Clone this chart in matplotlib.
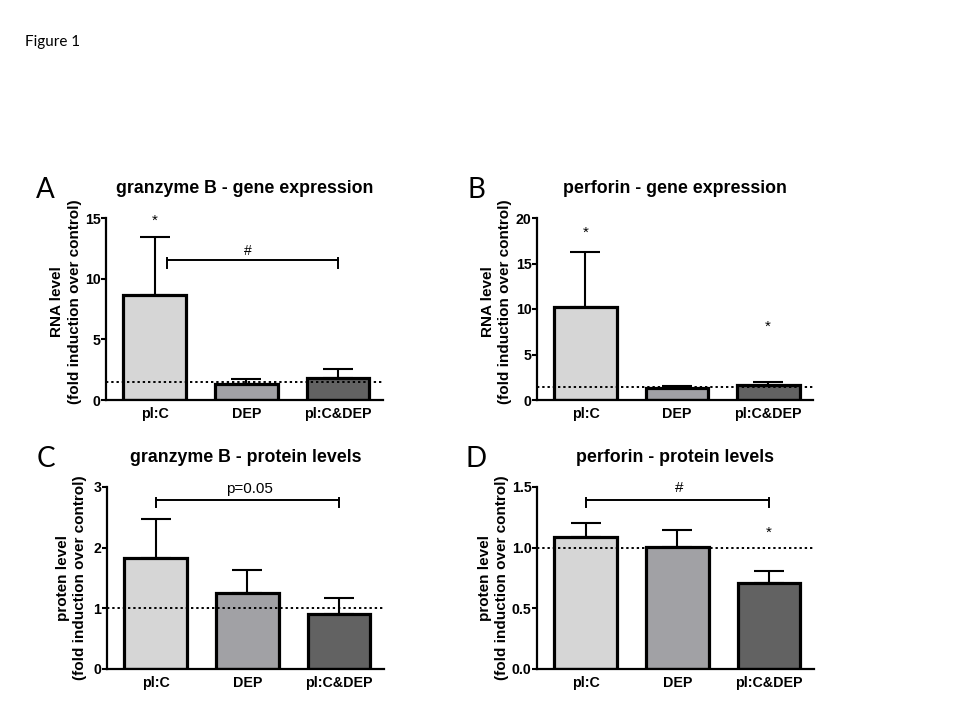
import matplotlib
matplotlib.use("Agg")
import matplotlib.pyplot as plt

plt.rcParams['font.family'] = ['Liberation Sans', 'DejaVu Sans']

groups = ['pl:C', 'DEP', 'pl:C&DEP']
colors = ['#d6d6d6', '#a1a1a5', '#626262']

# values: means and upper error (mean + SEM)
grz_rna = [8.65, 1.3, 1.8]
grz_rna_err = [13.4, 1.7, 2.55]
prf_rna = [10.2, 1.3, 1.65]
prf_rna_err = [16.3, 1.55, 2.0]
grz_prot = [1.83, 1.26, 0.91]
grz_prot_err = [2.48, 1.64, 1.17]
prf_prot = [1.085, 1.007, 0.706]
prf_prot_err = [1.20, 1.144, 0.808]

# baselines (dotted lines)
baselines = [1.5, 1.4, 1.0, 1.0]

fig = plt.figure(figsize=(9.6, 7.2), dpi=100)
fig.text(25/960, 1 - 42/720, 'Figure 1', fontsize=11, family=['Lato', 'DejaVu Sans'],
         va='center', ha='left')


def panel(rect, letter, title, vals, tops, base, ymax, yticks, ylabel, ticklabels, labxy):
    ax = fig.add_axes(rect)
    x = list(range(len(groups)))
    ax.bar(x, vals, width=0.685, color=colors, edgecolor='black', linewidth=2.3, zorder=2)
    errs = [t - v for t, v in zip(tops, vals)]
    ax.errorbar(x, vals, yerr=[[0]*3, errs], fmt='none', ecolor='black',
                elinewidth=1.5, capsize=11, capthick=1.5, zorder=1)
    ax.axhline(base, color='black', linestyle=(0, (1.2, 1.5)), linewidth=1.4, zorder=3)
    ax.set_xlim(-0.53, 2.49)
    ax.set_ylim(0, ymax)
    ax.set_yticks(yticks)
    ax.set_yticklabels(ticklabels, fontweight='bold', fontsize=10.2)
    ax.set_xticks(x)
    ax.set_xticklabels(groups, fontweight='bold', fontsize=10.3)
    ax.tick_params(axis='x', length=0, pad=5)
    ax.tick_params(axis='y', length=3.5, width=1.5, direction='out', pad=0.5)
    for s in ['top', 'right']:
        ax.spines[s].set_visible(False)
    for s in ['left', 'bottom']:
        ax.spines[s].set_linewidth(1.6)
    ax.set_ylabel(ylabel, fontweight='bold', fontsize=11, linespacing=1.3)
    ax.yaxis.set_label_coords(*labxy)
    ax.set_title(title, fontweight='bold', fontsize=12.8, pad=18)
    ax.text(-0.22, 1.155, letter, transform=ax.transAxes, fontsize=20,
            family=['Lato', 'DejaVu Sans'], ha='center', va='center')
    return ax


def bracket(ax, x0, x1, y, tick):
    ax.plot([x0, x1], [y, y], color='black', linewidth=1.4, clip_on=False)
    for xx in (x0, x1):
        ax.plot([xx, xx], [y + tick*0.35, y - tick], color='black', linewidth=1.4, clip_on=False)


rna_label = 'RNA level\n(fold induction over control)'
prot_label = 'proten level\n(fold induction over control)'

axA = panel([106/960, 1 - 400/720, 277/960, 182/720], 'A', 'granzyme B - gene expression',
            grz_rna, grz_rna_err, baselines[0], 15, [0, 5, 10, 15], rna_label,
            ['0', '5', '10', '15'], (-0.088, 0.54))
bracket(axA, 0.14, 2.0, 11.5, 0.6)
axA.text(1.02, 12.3, '#', ha='center', va='center', fontsize=10)
axA.text(0, 14.75, '*', ha='center', va='center', fontsize=11)

axB = panel([537/960, 1 - 400/720, 276/960, 182/720], 'B', 'perforin - gene expression',
            prf_rna, prf_rna_err, baselines[1], 20, [0, 5, 10, 15, 20], rna_label,
            ['0', '5', '10', '15', '20'], (-0.091, 0.54))
axB.text(0, 18.4, '*', ha='center', va='center', fontsize=11)
axB.text(2, 8.1, '*', ha='center', va='center', fontsize=11)

axC = panel([107/960, 1 - 669/720, 277/960, 182/720], 'C', 'granzyme B - protein levels',
            grz_prot, grz_prot_err, baselines[2], 3, [0, 1, 2, 3], prot_label,
            ['0', '1', '2', '3'], (-0.072, 0.5))
bracket(axC, 0.0, 2.0, 2.78, 0.11)
axC.text(1.02, 2.97, 'p=0.05', ha='center', va='center', fontsize=11)

axD = panel([537/960, 1 - 669/720, 277/960, 182/720], 'D', 'perforin - protein levels',
            prf_prot, prf_prot_err, baselines[3], 1.5, [0, 0.5, 1.0, 1.5], prot_label,
            ['0.0', '0.5', '1.0', '1.5'], (-0.1, 0.5))
bracket(axD, 0.0, 2.0, 1.39, 0.055)
axD.text(1.02, 1.49, '#', ha='center', va='center', fontsize=11)
axD.text(2, 1.12, '*', ha='center', va='center', fontsize=11)

plt.savefig('out.png', dpi=100)
